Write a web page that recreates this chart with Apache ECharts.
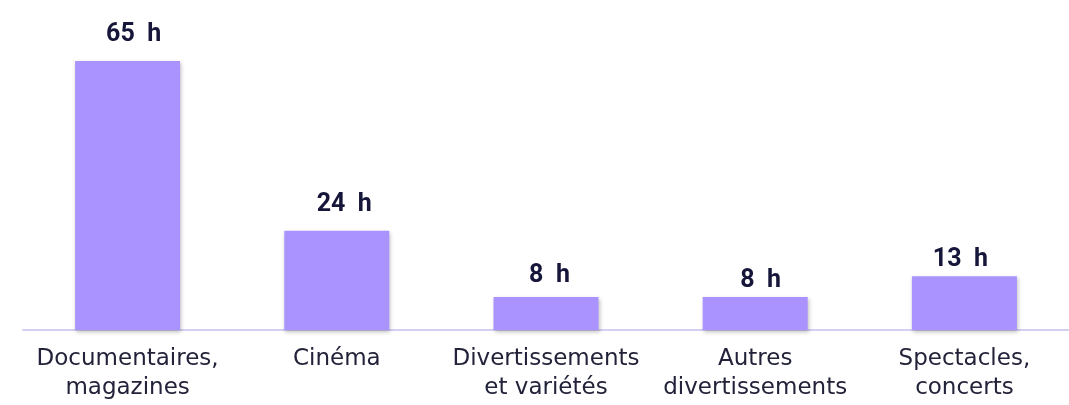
<!DOCTYPE html>
<html><head><meta charset="utf-8">
<script src="https://cdn.jsdelivr.net/npm/echarts@6/dist/echarts.min.js"></script>
<style>html,body{margin:0;padding:0;background:#fff}#c{width:1069px;height:405px}</style>
</head><body><div id="c"></div>
<script>
const categories = ["Documentaires,\nmagazines", "Cinéma", "Divertissements\net variétés", "Autres\ndivertissements", "Spectacles,\nconcerts"];
const hours = [65, 24, 8, 8, 13];
// small label nudges (style only), relative to default 'top' position
const labelNudge = [[6, 0], [7.5, 1], [3.5, 5], [5.5, 10], [-4, 10]];
const chart = echarts.init(document.getElementById('c'));
chart.setOption({
  animation: false,
  grid: {left: 23, right: 0, top: 61, bottom: 75},
  xAxis: {
    type: 'category', data: categories,
    axisLine: {lineStyle: {color: '#d4d0f2', width: 2}},
    axisTick: {show: false},
    axisLabel: {color: '#22223a', fontSize: 23, fontFamily: 'DejaVu Sans', lineHeight: 29.5, margin: 14, interval: 0}
  },
  yAxis: {type: 'value', min: 0, max: 65, show: false, splitLine: {show: false}},
  series: [{
    type: 'bar', barWidth: 105,
    data: hours.map((v, i) => ({value: v, label: {offset: labelNudge[i]}})),
    itemStyle: {color: '#ab93ff', shadowColor: 'rgba(0,0,0,0.25)', shadowBlur: 4, shadowOffsetX: 1, shadowOffsetY: 2},
    label: {show: true, position: 'top', distance: 14, formatter: p => p.value + '  h',
      color: '#16163a', fontSize: 25, fontWeight: 'bold', fontFamily: 'Roboto'}
  }]
});
</script></body></html>
